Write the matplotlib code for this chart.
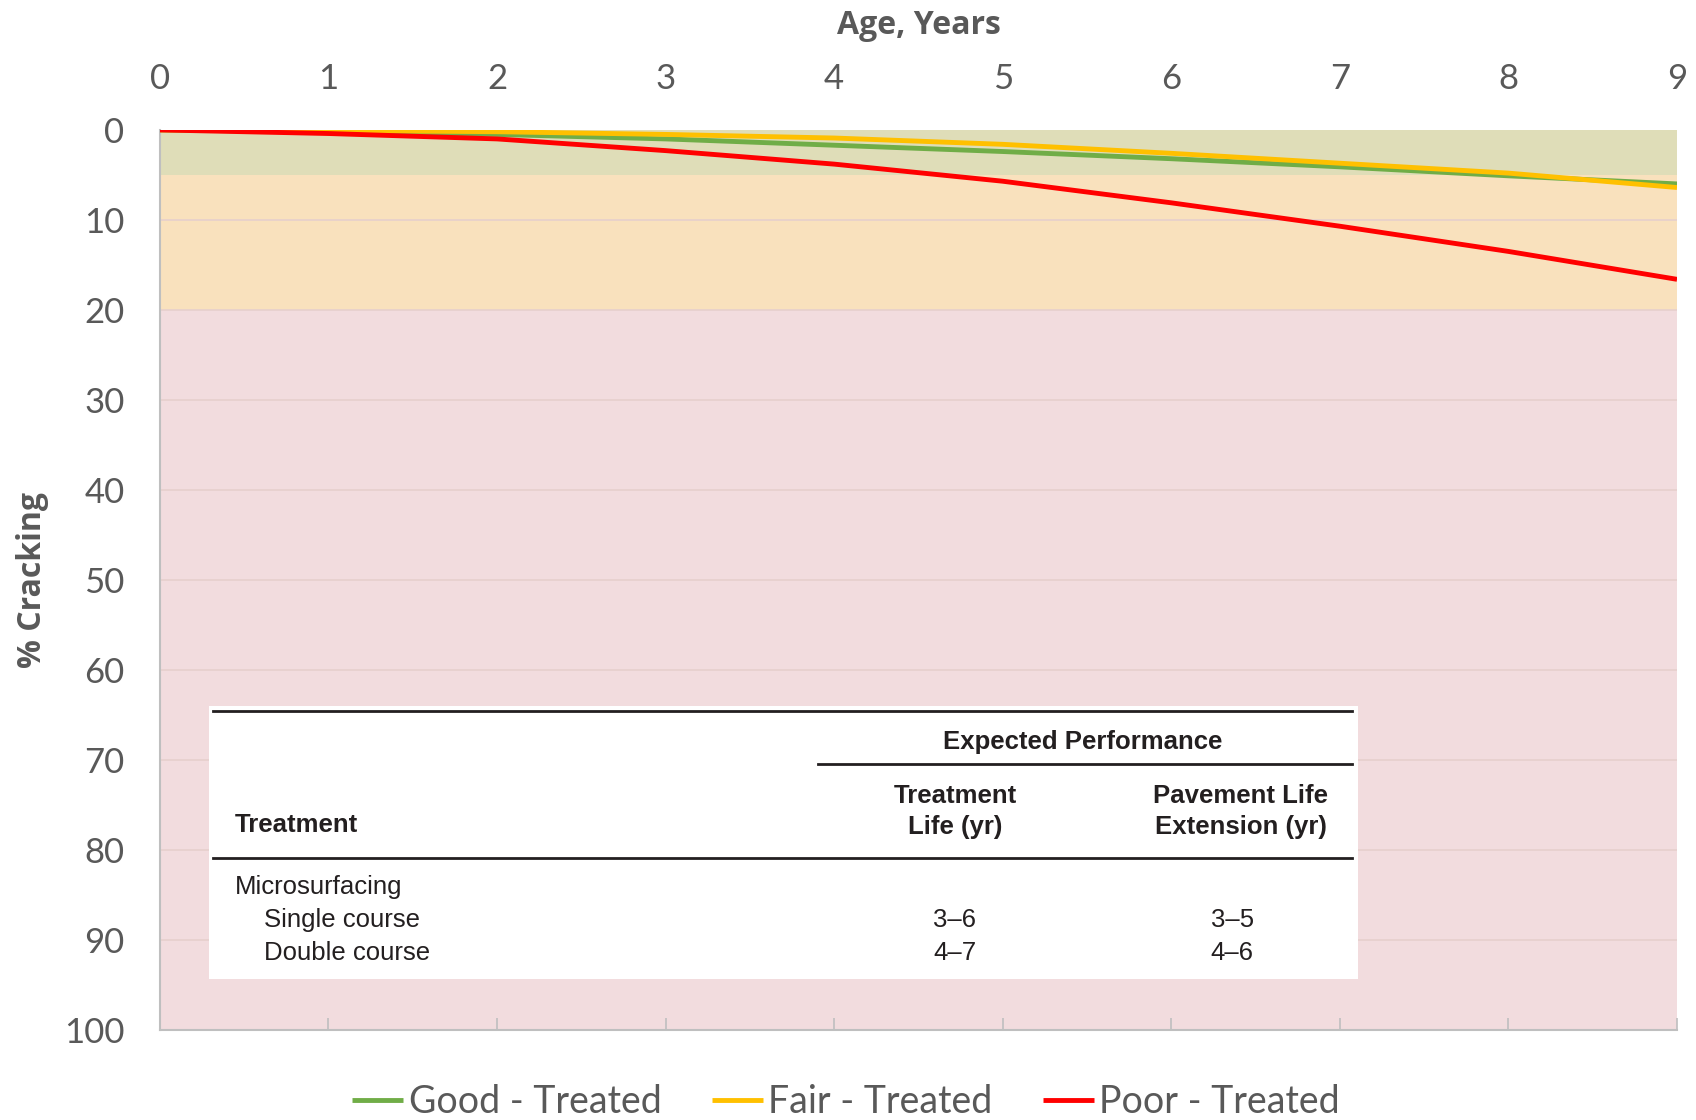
import matplotlib
matplotlib.use("Agg")
import matplotlib.pyplot as plt
from matplotlib.patches import Rectangle
from matplotlib.lines import Line2D

# ---- data ----
years = [0, 1, 2, 3, 4, 5, 6, 7, 8, 9]
good_treated = [0, 0.2, 0.5, 1.0, 1.7, 2.4, 3.2, 4.1, 5.1, 6.0]
fair_treated = [0, 0.05, 0.2, 0.5, 0.9, 1.6, 2.6, 3.7, 4.8, 6.4]
poor_treated = [0, 0.4, 1.0, 2.3, 3.8, 5.7, 8.1, 10.7, 13.5, 16.6]
series_names = ["Good - Treated", "Fair - Treated", "Poor - Treated"]
series_colors = ["#70AD47", "#FFC000", "#FF0000"]

band_edges = [0, 5, 20, 100]
band_colors = ["#DFDDB8", "#F9E1BD", "#F2DCDE"]

x_ticks = list(range(0, 10))
y_ticks = list(range(0, 101, 10))

table_header_group = "Expected Performance"
table_col_headers = ["Treatment", "Treatment\nLife (yr)", "Pavement Life\nExtension (yr)"]
table_group = "Microsurfacing"
table_rows = ["Single course", "Double course"]
table_life = ["3\u20136", "4\u20137"]
table_ext = ["3\u20135", "4\u20136"]

gray = "#595959"
fig = plt.figure(figsize=(16.96, 11.2), dpi=100)
ax = fig.add_axes([0.0943, 0.0804, 0.8945, 0.8036])

# bands
for (lo, hi), c in zip(zip(band_edges[:-1], band_edges[1:]), band_colors):
    ax.axhspan(lo, hi, color=c, zorder=0, lw=0)
for yv in y_ticks[1:-1]:
    ax.axhline(yv, color="#E6CFCC", lw=1.2, zorder=0.5)

for vals, name, c in zip([good_treated, fair_treated, poor_treated], series_names, series_colors):
    ax.plot(years, vals, color=c, lw=3.5, label=name, zorder=3, solid_capstyle="butt")

ax.set_xlim(0, 9)
ax.set_ylim(100, 0)
ax.set_xticks(x_ticks)
ax.set_yticks(y_ticks)
ax.tick_params(axis="x", bottom=True, top=False, labelbottom=False, labeltop=True,
               direction="in", length=9, width=1.2, color="#BFBFBF", labelsize=25,
               labelcolor=gray, pad=25)
ax.tick_params(axis="y", left=False, labelsize=25, labelcolor=gray, pad=22)
for lab in ax.get_xticklabels() + ax.get_yticklabels():
    lab.set_fontfamily(["Lato", "DejaVu Sans"])
for s in ["top", "right"]:
    ax.spines[s].set_visible(False)
for s in ["left", "bottom"]:
    ax.spines[s].set_color("#BFBFBF")
    ax.spines[s].set_linewidth(1.5)

ax.set_xlabel("Age, Years", fontsize=23, fontweight="bold", color=gray,
              family=["Open Sans", "DejaVu Sans"], labelpad=21)
ax.xaxis.set_label_position("top")
ax.set_ylabel("% Cracking", fontsize=23, fontweight="bold", color=gray,
              family=["Open Sans", "DejaVu Sans"], labelpad=11)

# ---- table ----
T = ax.transAxes
tf = dict(family=["Liberation Sans", "DejaVu Sans"], fontsize=18.5, color="#231F20", transform=T)
ax.add_patch(Rectangle((0.0321, 0.0565), 0.790 - 0.0321, 0.3594 - 0.0565,
                       transform=T, facecolor="white", edgecolor="none", zorder=4))
ax.add_line(Line2D([0.035, 0.786], [0.3546, 0.3546], transform=T, color="#231F20", lw=2, zorder=5))
ax.add_line(Line2D([0.434, 0.786], [0.2957, 0.2957], transform=T, color="#231F20", lw=2, zorder=5))
ax.add_line(Line2D([0.035, 0.786], [0.1911, 0.1911], transform=T, color="#231F20", lw=2, zorder=5))
ax.text(0.6084, 0.3197, table_header_group, ha="center", va="center", fontweight="bold", zorder=6, **tf)
ax.text(0.0492, 0.2272, table_col_headers[0], ha="left", va="center", fontweight="bold", zorder=6, **tf)
ax.text(0.524, 0.2428, table_col_headers[1], ha="center", va="center", fontweight="bold",
        linespacing=1.35, zorder=6, **tf)
ax.text(0.7126, 0.2428, table_col_headers[2], ha="center", va="center", fontweight="bold",
        linespacing=1.35, zorder=6, **tf)
ax.text(0.0492, 0.1587, table_group, ha="left", va="center", zorder=6, **tf)
row_y = [0.1226, 0.0853]
for name, life, ext, yy in zip(table_rows, table_life, table_ext, row_y):
    ax.text(0.0685, yy, name, ha="left", va="center", zorder=6, **tf)
    ax.text(0.524, yy, life, ha="center", va="center", zorder=6, **tf)
    ax.text(0.7068, yy, ext, ha="center", va="center", zorder=6, **tf)

leg = fig.legend(loc="lower center", bbox_to_anchor=(0.499, -0.03), ncol=3, frameon=False,
                 prop={"family": ["Lato", "DejaVu Sans"], "size": 27},
                 handlelength=1.35, handletextpad=0.15, columnspacing=1.35)
for t in leg.get_texts():
    t.set_color(gray)

fig.savefig("out.png", dpi=100)
